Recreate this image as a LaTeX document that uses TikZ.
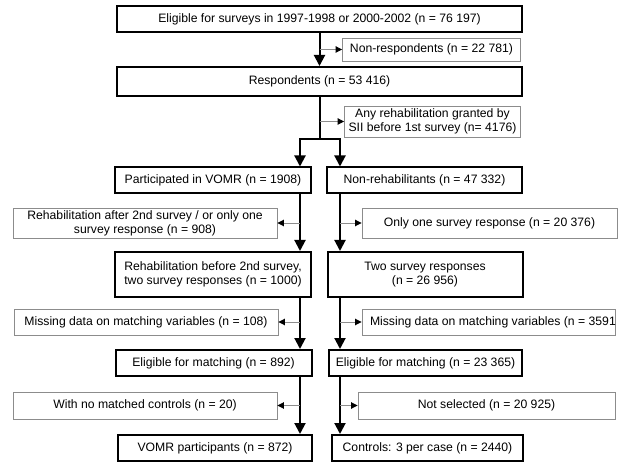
\documentclass[tikz,border=0pt]{standalone}
\usepackage{fontspec}
\setmainfont{Liberation Sans}
\usetikzlibrary{arrows.meta}
\definecolor{sidegray}{HTML}{8C8C8C}
\tikzset{
  mainbox/.style={draw=black, line width=2pt, inner sep=1pt, align=center, font=\fontsize{12.2}{14}\selectfont},
  sidebox/.style={draw=sidegray, line width=0.9pt, inner sep=1pt, align=center, font=\fontsize{12.2}{14}\selectfont},
  mainarrow/.style={draw=black, line width=2pt, -{Triangle[length=11pt,width=11pt]}},
  mainline/.style={draw=black, line width=2pt},
  sidearrow/.style={draw=sidegray, line width=0.9pt, -{Triangle[length=6.5pt,width=6.5pt,color=black]}},
}
\begin{document}
\begin{tikzpicture}[x=1pt,y=-1pt]
\useasboundingbox (0,0) rectangle (621,462);
\coordinate (xm) at (319.5,0);
\coordinate (xl) at (300,0);
\coordinate (xr) at (340,0);
\coordinate (split) at (319.5,139);

\node[mainbox, minimum width=405pt, minimum height=26pt] (top) at (319.5,19) {Eligible for surveys in 1997-1998 or 2000-2002 (n = 76 197)};
\node[sidebox, minimum width=178pt, minimum height=23pt] (nonresp) at (431.5,49.5) {Non-respondents (n = 22 781)};
\node[mainbox, minimum width=405pt, minimum height=29pt] (resp) at (319.5,81.5) {Respondents (n = 53 416)};
\node[sidebox, minimum width=176pt, minimum height=31pt] (sii) at (432.5,121.5) {Any rehabilitation granted by\\SII before 1st survey (n= 4176)};

\node[mainbox, minimum width=196pt, minimum height=26pt] (part) at (213,180.5) {Participated in VOMR (n = 1908)};
\node[mainbox, minimum width=195pt, minimum height=26pt] (nonrehab) at (424.5,180.5) {Non-rehabilitants (n = 47 332)};

\node[sidebox, minimum width=264pt, minimum height=30pt] (rehabafter) at (145,223) {Rehabilitation after 2nd survey / or only one\\survey response (n = 908)};
\node[sidebox, minimum width=255pt, minimum height=30pt] (onlyone) at (489.5,223) {Only one survey response (n = 20 376)};

\node[mainbox, minimum width=196pt, minimum height=45pt] (rehabbefore) at (213,274.5) {Rehabilitation before 2nd survey,\\two survey responses (n = 1000)};
\node[mainbox, minimum width=195pt, minimum height=45pt] (twosurvey) at (425,274.5) {Two survey responses\\(n = 26 956)};

\node[sidebox, minimum width=264pt, minimum height=26pt] (miss108) at (146,322) {Missing data on matching variables (n = 108)};
\node[sidebox, minimum width=253pt, minimum height=26pt, inner sep=0pt] (miss3591) at (488.5,322) {\makebox[247pt][l]{\hspace{5pt}Missing data on matching variables (n = 3591}};

\node[mainbox, minimum width=196pt, minimum height=26pt] (elig892) at (213.5,363) {Eligible for matching (n = 892)};
\node[mainbox, minimum width=193pt, minimum height=26pt] (elig23365) at (425.5,363) {Eligible for matching (n = 23 365)};

\node[sidebox, minimum width=264pt, minimum height=27pt] (nomatch) at (145,405.5) {With no matched controls (n = 20)};
\node[sidebox, minimum width=257pt, minimum height=27pt] (notsel) at (486.5,405.5) {Not selected (n = 20 925)};

\node[mainbox, minimum width=194pt, minimum height=26pt] (vomr) at (215,448) {VOMR participants (n = 872)};
\node[mainbox, minimum width=191pt, minimum height=26pt] (controls) at (427.5,448) {Controls: 3 per case (n = 2440)};

% trunk
\draw[mainarrow] (top.south -| xm) -- (resp.north -| xm);
\draw[sidearrow] (nonresp.west -| xm) -- (nonresp.west);
\draw[mainline] (resp.south -| xm) -- (split);
\draw[sidearrow] (sii.west -| xm) -- (sii.west);
\draw[line width=2pt, {Triangle[length=11pt,width=11pt]}-{Triangle[length=11pt,width=11pt]}] (part.north -| xl) |- (split) -| (nonrehab.north -| xr);

% left column
\draw[mainarrow] (part.south -| xl) -- (rehabbefore.north -| xl);
\draw[sidearrow] (rehabafter.east -| xl) -- (rehabafter.east);
\draw[mainarrow] (rehabbefore.south -| xl) -- (elig892.north -| xl);
\draw[sidearrow] (miss108.east -| xl) -- (miss108.east);
\draw[mainarrow] (elig892.south -| xl) -- (vomr.north -| xl);
\draw[sidearrow] (nomatch.east -| xl) -- (nomatch.east);

% right column
\draw[mainarrow] (nonrehab.south -| xr) -- (twosurvey.north -| xr);
\draw[sidearrow] (onlyone.west -| xr) -- (onlyone.west);
\draw[mainarrow] (twosurvey.south -| xr) -- (elig23365.north -| xr);
\draw[sidearrow] (miss3591.west -| xr) -- (miss3591.west);
\draw[mainarrow] (elig23365.south -| xr) -- (controls.north -| xr);
\draw[sidearrow] (notsel.west -| xr) -- (notsel.west);
\end{tikzpicture}
\end{document}
